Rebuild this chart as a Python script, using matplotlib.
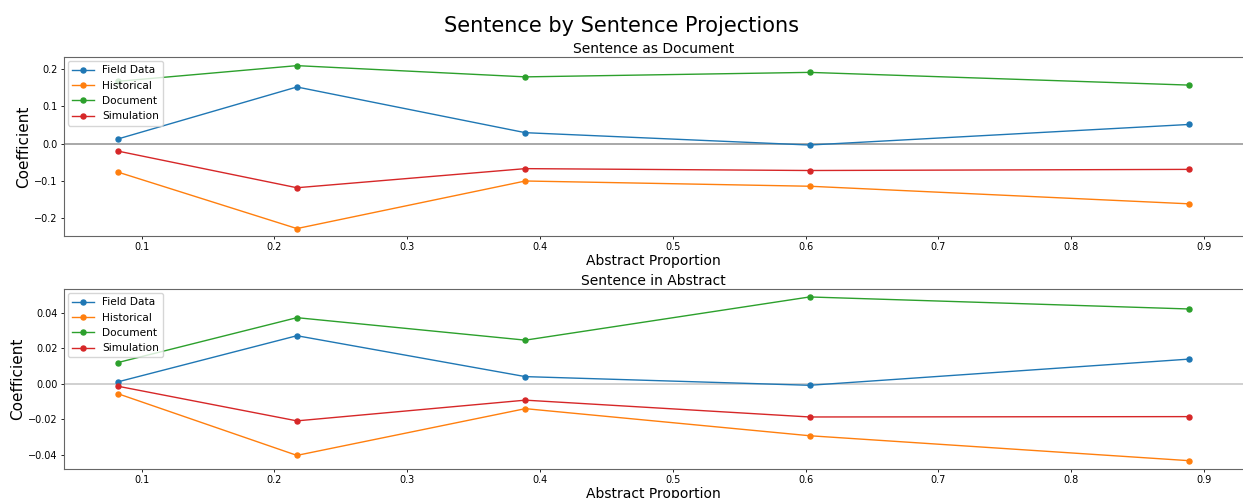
import numpy as np
import matplotlib
matplotlib.use("Agg")
import matplotlib.pyplot as plt

# abstract proportion bins (x positions)
props = [0.082, 0.217, 0.389, 0.603, 0.889]
labels = ["Field Data", "Historical", "Document", "Simulation"]

# Sentence as Document coefficients
doc_field = [0.012, 0.151, 0.029, -0.004, 0.051]
doc_hist = [-0.076, -0.227, -0.100, -0.114, -0.161]
doc_doc = [0.166, 0.208, 0.178, 0.190, 0.156]
doc_sim = [-0.020, -0.118, -0.067, -0.072, -0.069]

# Sentence in Abstract coefficients
abs_field = [0.0011, 0.0272, 0.0041, -0.0008, 0.0140]
abs_hist = [-0.0055, -0.0404, -0.0140, -0.0293, -0.0434]
abs_doc = [0.0120, 0.0374, 0.0247, 0.0491, 0.0423]
abs_sim = [-0.0013, -0.0209, -0.0092, -0.0187, -0.0185]

fig = plt.figure(figsize=(12.43, 4.98), dpi=100)
ax1 = fig.add_axes([0.0515, 0.526, 0.9485, 0.3595])
ax2 = fig.add_axes([0.0515, 0.0582, 0.9485, 0.3615])

fig.text(0.5, 0.948, "Sentence by Sentence Projections", ha="center", va="center", fontsize=15)


def draw(ax, series, title, zero_col):
    for vals, lab in zip(series, labels):
        ax.plot(props, vals, marker="o", markersize=3.6, linewidth=1.0, label=lab)
    ax.axhline(0, color=zero_col, linewidth=1.2, zorder=0)
    ax.set_title(title, fontsize=10, pad=3)
    ax.set_xlabel("Abstract Proportion", fontsize=10, labelpad=1)
    ax.set_ylabel("Coefficient", fontsize=11, labelpad=2)
    ax.tick_params(labelsize=7, length=2.5, width=0.6, pad=2)
    for s in ax.spines.values():
        s.set_color("#666666")
    ax.spines["right"].set_visible(False)
    ax.legend(loc="upper left", fontsize=7.6, borderaxespad=0.4)


draw(ax1, [doc_field, doc_hist, doc_doc, doc_sim], "Sentence as Document", "#999999")
ax1.set_ylim(-0.247, 0.231)
ax1.set_yticks([-0.2, -0.1, 0.0, 0.1, 0.2])

draw(ax2, [abs_field, abs_hist, abs_doc, abs_sim], "Sentence in Abstract", "#c8c8c8")
ax2.set_ylim(-0.0481, 0.0536)
ax2.set_yticks([-0.04, -0.02, 0.0, 0.02, 0.04])

for ax in (ax1, ax2):
    ax.set_xticks([0.1, 0.2, 0.3, 0.4, 0.5, 0.6, 0.7, 0.8, 0.9])

fig.savefig("out.png", dpi=100)
